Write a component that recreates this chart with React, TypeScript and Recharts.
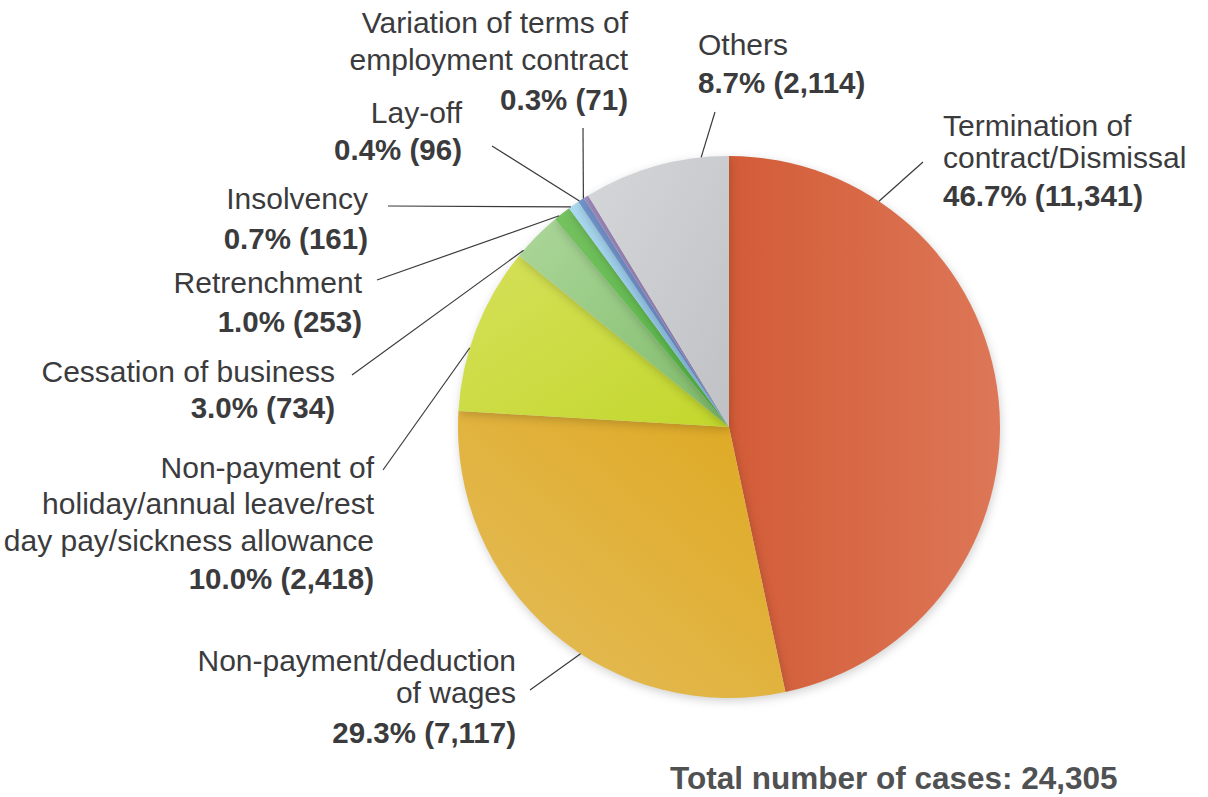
import { PieChart, Pie, Cell } from 'recharts';

const categories = [
  'Termination of\ncontract/Dismissal',
  'Non-payment/deduction\nof wages',
  'Non-payment of\nholiday/annual leave/rest\nday pay/sickness allowance',
  'Cessation of business',
  'Retrenchment',
  'Insolvency',
  'Lay-off',
  'Variation of terms of\nemployment contract',
  'Others',
];
const cases = [11341, 7117, 2418, 734, 253, 161, 96, 71, 2114];
const percents = [46.7, 29.3, 10.0, 3.0, 1.0, 0.7, 0.4, 0.3, 8.7];
const totalCases = 24305;

const data = categories.map((name, i) => ({ name, value: cases[i], pct: percents[i] }));

// gradient stops per slice: [from, to, x1, y1, x2, y2]
const sliceFills: [string, string, number, number, number, number][] = [
  ['#d35c38', '#dd7757', 0, 0, 1, 0],
  ['#dea820', '#e4bd5c', 1, 0, 0, 1],
  ['#d6e05a', '#c2d72c', 0, 0, 1, 1],
  ['#acd79a', '#7eba68', 0, 0, 1, 1],
  ['#76c260', '#52b443', 0, 0, 1, 1],
  ['#acdaf0', '#80b8e0', 0, 0, 1, 1],
  ['#7496cd', '#6a8cc6', 0, 0, 1, 1],
  ['#a18cbe', '#9782b6', 0, 0, 1, 1],
  ['#d5d6d8', '#c0c1c5', 0, 0, 1, 1],
];

// label layout relative to pie centre: arc angle of leader start, leader end, text anchor, baselines
const labelLayout = [
  { angle: 56.4, ex: 194, ey: -265, tx: 214, anchor: 'start', ys: [-291, -259, -221] },
  { angle: 236.8, ex: -199, ey: 263, tx: -213, anchor: 'end', ys: [244, 276, 316] },
  { angle: 163, ex: -346, ey: 43, tx: -355, anchor: 'end', ys: [51, 87, 124, 162] },
  { angle: 139.3, ex: -377, ey: -52, tx: -394, anchor: 'end', ys: [-45, -9] },
  { angle: 128.8, ex: -352, ey: -147, tx: -367, anchor: 'end', ys: [-134, -95] },
  { angle: 125.7, ex: -341, ey: -221, tx: -361, anchor: 'end', ys: [-218, -178] },
  { angle: 123.5, ex: -237, ey: -281, tx: -267, anchor: 'end', ys: [-304, -267] },
  { angle: 122.5, ex: -146, ey: -299, tx: -101, anchor: 'end', ys: [-394, -357, -317] },
  { angle: 95.9, ex: -14, ey: -315, tx: -31, anchor: 'start', ys: [-372, -334] },
];

const FONT = '"Liberation Sans", Arial, Helvetica, sans-serif';
const TEXT = '#3b3b3d';

const renderLabel = (props: any) => {
  const { cx, cy, outerRadius, index } = props;
  const l = labelLayout[index];
  const d = data[index];
  const rad = (l.angle * Math.PI) / 180;
  const sx = cx + outerRadius * Math.cos(rad);
  const sy = cy - outerRadius * Math.sin(rad);
  const lines = d.name.split('\n');
  return (
    <g key={`lbl-${index}`}>
      <line x1={sx} y1={sy} x2={cx + l.ex} y2={cy + l.ey} stroke="#3a3a3a" strokeWidth={1.2} />
      <text textAnchor={l.anchor} fontFamily={FONT} fontSize={30} fill={TEXT}>
        {lines.map((t, i) => (
          <tspan key={i} x={cx + l.tx} y={cy + l.ys[i]}>{t}</tspan>
        ))}
        <tspan x={cx + l.tx} y={cy + l.ys[lines.length]} fontWeight={700} fontSize={29.5}>
          {`${d.pct.toFixed(1)}% (${d.value.toLocaleString('en-US')})`}
        </tspan>
      </text>
    </g>
  );
};

const App = () => (
  <div style={{ position: 'relative', width: 1208, height: 797, background: '#fff' }}>
    <style>{`body{margin:0} .recharts-pie-sector{filter: drop-shadow(1px 3px 5px rgba(0,0,0,0.18));}`}</style>
    <PieChart width={1208} height={797} margin={{ top: 0, right: 0, bottom: 0, left: 0 }}>
      <defs>
        {sliceFills.map(([a, b, x1, y1, x2, y2], i) => (
          <linearGradient key={i} id={`slice${i}`} x1={x1} y1={y1} x2={x2} y2={y2}>
            <stop offset="0%" stopColor={a} />
            <stop offset="100%" stopColor={b} />
          </linearGradient>
        ))}
      </defs>
      <Pie
        data={data}
        dataKey="value"
        cx={729}
        cy={427}
        outerRadius={271}
        startAngle={90}
        endAngle={-270}
        stroke="none"
        label={renderLabel}
        labelLine={false}
        isAnimationActive={false}
      >
        {data.map((_, i) => (
          <Cell key={i} fill={`url(#slice${i})`} />
        ))}
      </Pie>
    </PieChart>
    <div
      style={{
        position: 'absolute',
        left: 670,
        top: 760,
        fontFamily: FONT,
        fontWeight: 700,
        fontSize: 31.5,
        lineHeight: '36px',
        color: '#505153',
        whiteSpace: 'nowrap',
      }}
    >
      Total number of cases: {totalCases.toLocaleString('en-US')}
    </div>
  </div>
);

export default App;
